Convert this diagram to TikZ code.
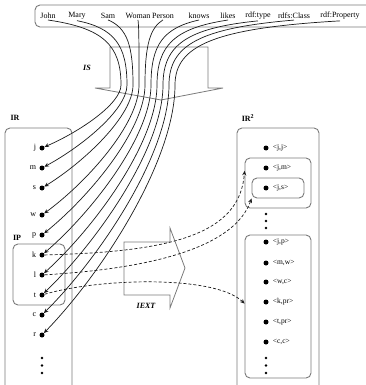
\documentclass[tikz,border=0pt]{standalone}
\usepackage{fontspec}
\setmainfont{Liberation Serif}
\usetikzlibrary{arrows.meta,positioning,fit}
\definecolor{cFrame}{HTML}{7A7A7A}
\definecolor{cWire}{HTML}{1A1A1A}
\tikzset{
  grp/.style={rounded corners=5pt, draw=cFrame, line width=0.9pt, inner sep=0pt},
  fat/.style={draw=cFrame, line width=0.8pt, line join=miter},
  wire/.style={-{Stealth[length=4.5pt,width=4pt]}, line width=0.7pt, draw=cWire},
  ext/.style={-{Stealth[length=4.5pt,width=4pt]}, line width=0.7pt, draw=cWire, dash pattern=on 3pt off 2pt},
  elem/.style={circle, fill=black, inner sep=0pt, minimum size=5pt},
  term/.style={font=\fontsize{8}{9}\selectfont, inner sep=1pt},
  pairlbl/.style={font=\fontsize{7.5}{9}\selectfont, inner sep=1pt},
  ttl/.style={font=\fontsize{8}{9}\selectfont\bfseries, inner sep=1pt},
  op/.style={font=\fontsize{8}{9}\selectfont\bfseries\itshape, inner sep=1pt},
}
\begin{document}
\begin{tikzpicture}[x=1pt, y=-1pt]
  \clip (0,0) rectangle (366,385);
  % vocabulary
  \coordinate (u1) at (35,5); \coordinate (u2) at (385,27);
  \node[grp, fit=(u1)(u2)] (voc) {};
  \node[term] (nJohn) at (48,16) {John};
  \node[term] (nMary) at (77,16) {Mary};
  \node[term] (nSam) at (108,16) {Sam};
  \node[term] (nWoman) at (138,16) {Woman};
  \node[term] (nPerson) at (163,16) {Person};
  \node[term] (nknows) at (199,16) {knows};
  \node[term] (nlikes) at (228,16) {likes};
  \node[term] (ntype) at (258,16) {rdf:type};
  \node[term] (nClass) at (294,16) {rdfs:Class};
  \node[term] (nProp) at (340,16) {rdf:Property};

  % block arrows
  \draw[fat] (110,47) -- (208,47) -- (208,88) -- (223,88) -- (161,100) -- (95,88) -- (110,88) -- cycle;
  \node[op] (IS) at (87,68) {IS};
  \draw[fat] (124,242) -- (170,242) -- (170,228) -- (185,268) -- (170,308) -- (170,295) -- (124,295) -- cycle;
  \node[op] (IEXT) at (146,306) {IEXT};

  % IR
  \node[ttl] (tIR) at (15,118) {IR};
  \coordinate (a1) at (5,128); \coordinate (a2) at (72,400);
  \node[grp, fit=(a1)(a2)] (IRbox) {};
  \node[ttl] (tIP) at (17,238) {IP};
  \coordinate (b1) at (13,244); \coordinate (b2) at (65,305);
  \node[grp, fit=(b1)(b2)] (IPbox) {};
  \node[elem] (dj) at (42,148) {}; \node[term, left=2pt of dj] (tj) {j};
  \node[elem] (dm) at (42,168) {}; \node[term, left=2pt of dm] (tm) {m};
  \node[elem] (ds) at (42,188) {}; \node[term, left=2pt of ds] (ts) {s};
  \node[elem] (dw) at (42,215) {}; \node[term, left=2pt of dw] (tw) {w};
  \node[elem] (dp) at (42,235) {}; \node[term, left=2pt of dp] (tp) {p};
  \node[elem] (dk) at (42,255) {}; \node[term, left=2pt of dk] (tk) {k};
  \node[elem] (dl) at (42,275) {}; \node[term, left=2pt of dl] (tl) {l};
  \node[elem] (dt) at (42,295) {}; \node[term, left=2pt of dt] (tt) {t};
  \node[elem] (dc) at (42,315) {}; \node[term, left=2pt of dc] (tc) {c};
  \node[elem] (dr) at (42,335) {}; \node[term, left=2pt of dr] (tr) {r};
  \fill (42,358) circle (1.4) (42,365.5) circle (1.4) (42,373) circle (1.4);

  % IR^2
  \node[ttl] (tIR2) at (248,118) {IR\textsuperscript{2}};
  \coordinate (c1) at (237,128); \coordinate (c2) at (319,400);
  \node[grp, fit=(c1)(c2)] (IR2box) {};
  \coordinate (e1) at (245,158); \coordinate (e2) at (311,208);
  \node[grp, fit=(e1)(e2)] (setjm) {};
  \coordinate (f1) at (252,178); \coordinate (f2) at (304,198);
  \node[grp, fit=(f1)(f2)] (setjs) {};
  \coordinate (g1) at (245,235); \coordinate (g2) at (311,378);
  \node[grp, fit=(g1)(g2)] (setlow) {};
  \node[elem] (rjj) at (266,148) {}; \node[pairlbl, right=3pt of rjj] (pjj) {<j,j>};
  \node[elem] (rjm) at (266,168) {}; \node[pairlbl, right=3pt of rjm] (pjm) {<j,m>};
  \node[elem] (rjs) at (266,188) {}; \node[pairlbl, right=3pt of rjs] (pjs) {<j,s>};
  \fill (266,214) circle (1.4) (266,221) circle (1.4) (266,228) circle (1.4);
  \node[elem] (rjp) at (266,242) {}; \node[pairlbl, right=3pt of rjp] (pjp) {<j,p>};
  \node[elem] (rmw) at (266,263) {}; \node[pairlbl, right=3pt of rmw] (pmw) {<m,w>};
  \node[elem] (rwc) at (266,282) {}; \node[pairlbl, right=3pt of rwc] (pwc) {<w,c>};
  \node[elem] (rkp) at (266,302) {}; \node[pairlbl, right=3pt of rkp] (pkp) {<k,pr>};
  \node[elem] (rtp) at (266,322) {}; \node[pairlbl, right=3pt of rtp] (ptp) {<t,pr>};
  \node[elem] (rcc) at (266,342) {}; \node[pairlbl, right=3pt of rcc] (pcc) {<c,c>};
  \fill (266,358) circle (1.4) (266,365.5) circle (1.4) (266,373) circle (1.4);

  % IS: names to resources
  \coordinate (wj) at (121,85); \coordinate (wm) at (127,85); \coordinate (ws) at (133,85);
  \coordinate (ww) at (139,85); \coordinate (wp) at (145,85); \coordinate (wk) at (151,85);
  \coordinate (wl) at (157,85); \coordinate (wt) at (163,85); \coordinate (wc) at (169,85);
  \coordinate (wr) at (175,85);
  \draw[wire] (nJohn.south) .. controls (103,28) and (121,45) .. (wj) .. controls (121,104) and (79,132) .. (dj);
  \draw[wire] (nMary.south) .. controls (114,28) and (127,45) .. (wm) .. controls (127,110) and (81,147) .. (dm);
  \draw[wire] (nSam.south) .. controls (127,28) and (133,45) .. (ws) .. controls (133,116) and (84,162) .. (ds);
  \draw[wire] (nWoman.south) .. controls (139,28) and (139,45) .. (ww) .. controls (139,124) and (87,182) .. (dw);
  \draw[wire] (nPerson.south) .. controls (150,28) and (145,45) .. (wp) .. controls (145,130) and (89,197) .. (dp);
  \draw[wire] (nknows.south) .. controls (163,28) and (151,45) .. (wk) .. controls (151,136) and (92,212) .. (dk);
  \draw[wire] (nlikes.south) .. controls (175,28) and (157,45) .. (wl) .. controls (157,142) and (95,227) .. (dl);
  \draw[wire] (ntype.south) .. controls (187,28) and (163,45) .. (wt) .. controls (163,148) and (97,242) .. (dt);
  \draw[wire] (nClass.south) .. controls (200,28) and (169,45) .. (wc) .. controls (169,154) and (100,257) .. (dc);
  \draw[wire] (nProp.south) .. controls (216,28) and (175,45) .. (wr) .. controls (175,160) and (103,272) .. (dr);

  % IEXT: properties to pair sets
  \draw[ext] (dk) .. controls (170,252) and (240,235) .. (setjm.160);
  \draw[ext] (dl) .. controls (160,268) and (235,245) .. (setjs.south west);
  \draw[ext] (dt) .. controls (100,278) and (215,275) .. (setlow.175);
\end{tikzpicture}
\end{document}
